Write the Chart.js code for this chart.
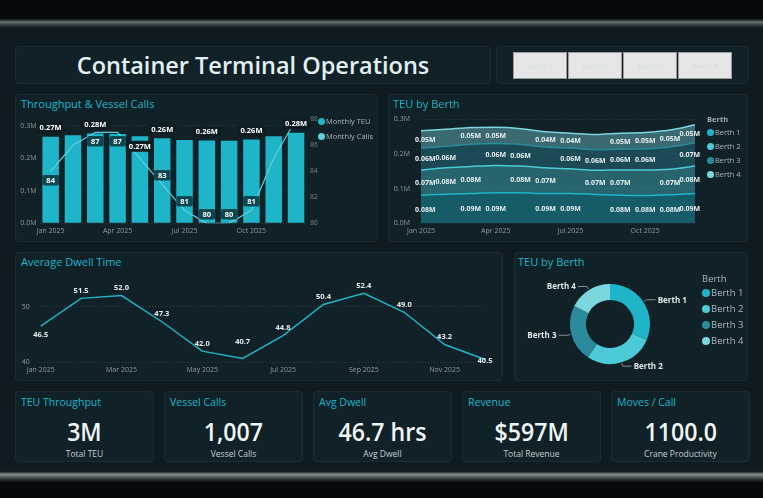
<!DOCTYPE html>
<html><head><meta charset="utf-8">
<script src="https://cdn.jsdelivr.net/npm/chart.js@4.4.1/dist/chart.umd.min.js"></script>
<style>
*{box-sizing:border-box}
html,body{margin:0;padding:0}
body{width:763px;height:498px;background:#060a0c;position:relative;overflow:hidden;font-family:"Open Sans",sans-serif}
#main{position:absolute;left:0;top:22px;width:763px;height:452px;background:#0e1b20}
#topband{position:absolute;left:0;top:19px;width:763px;height:9px;background:linear-gradient(#080c0e,#6a7476 35%,#3a4446 60%,#0e1b20)}
#botband{position:absolute;left:0;top:467px;width:763px;height:15px;background:linear-gradient(#0e1b20,#131e22 30%,#858f91 50%,#3c4547 75%,#070b0d)}
.card{position:absolute;background:#112128;border:1px solid #1b2d34;border-radius:4px}
.ctitle{position:absolute;color:#1fb5c9;font-size:11px;white-space:nowrap;line-height:14px}
canvas{position:absolute}
#title{position:absolute;left:15px;top:46px;width:476px;height:38px;display:flex;align-items:center;justify-content:center;color:#e2f0f2;font-weight:600;font-size:23.5px;white-space:nowrap}
.btn{position:absolute;top:52px;width:54px;height:27px;background:#e6e6e6;border:1px solid #9c9c9c;color:#d3dfe2;font-size:7.5px;display:flex;align-items:center;justify-content:center}
.leg{position:absolute;font-size:7.5px;color:#a7b6ba;white-space:nowrap;line-height:10px}
.dot{display:inline-block;width:7px;height:7px;border-radius:50%;margin-right:1px;vertical-align:-1px}
.kpi .kt{position:absolute;left:5px;top:3px;color:#1fb5c9;font-size:10.5px;line-height:14px;white-space:nowrap}
.kpi .kv{position:absolute;left:0;width:100%;top:24px;text-align:center;color:#f0f6f7;font-size:26px;font-weight:600;line-height:30px;white-space:nowrap}
.kpi .kv span{display:inline-block;transform:scaleX(0.89)}
.kpi .ks{position:absolute;left:0;width:100%;top:56px;text-align:center;color:#c3cfd2;font-size:8.5px;line-height:12px;white-space:nowrap}
</style>
</head><body>
<div id="main"></div>
<div id="topband"></div>
<div id="botband"></div>

<div class="card" style="left:15px;top:46px;width:476px;height:38px"></div>
<div id="title">Container Terminal Operations</div>
<div class="card" style="left:496px;top:46px;width:253px;height:38px"></div>
<div id="btns"></div>

<div class="card" style="left:15px;top:94px;width:363px;height:148px"></div>
<div class="ctitle" style="left:21px;top:97px">Throughput &amp; Vessel Calls</div>
<canvas id="c1" width="366" height="150" style="left:14px;top:93px;width:366px;height:150px"></canvas>
<div id="leg1"></div>

<div class="card" style="left:388px;top:94px;width:360px;height:148px"></div>
<div class="ctitle" style="left:393px;top:97px">TEU by Berth</div>
<canvas id="c2" width="361" height="150" style="left:388px;top:93px;width:361px;height:150px"></canvas>
<div id="leg2"></div>

<div class="card" style="left:15px;top:252px;width:488px;height:129px"></div>
<div class="ctitle" style="left:21px;top:255px">Average Dwell Time</div>
<canvas id="c3" width="489" height="129" style="left:14px;top:252px;width:489px;height:129px"></canvas>

<div class="card" style="left:514px;top:252px;width:234px;height:129px"></div>
<div class="ctitle" style="left:518px;top:255px">TEU by Berth</div>
<canvas id="c4" width="236" height="129" style="left:513px;top:252px;width:236px;height:129px"></canvas>
<div id="leg4"></div>

<div id="kpis"></div>

<script>
// ---------------- DATA ----------------
const months = ['Jan 2025','Feb 2025','Mar 2025','Apr 2025','May 2025','Jun 2025','Jul 2025','Aug 2025','Sep 2025','Oct 2025','Nov 2025','Dec 2025'];
const monthlyTEU = [0.266,0.271,0.276,0.275,0.268,0.262,0.256,0.255,0.254,0.258,0.268,0.279]; // millions
const monthlyCalls = [84,86,87,87,85,83,81,80,80,81,85,88];
const berthNames = ['Berth 1','Berth 2','Berth 3','Berth 4'];
const berth1TEU = [0.081,0.084,0.086,0.088,0.088,0.086,0.086,0.083,0.081,0.080,0.082,0.086];
const berth2TEU = [0.073,0.076,0.078,0.079,0.077,0.074,0.071,0.070,0.073,0.074,0.074,0.079];
const berth3TEU = [0.063,0.062,0.064,0.063,0.062,0.060,0.060,0.059,0.060,0.061,0.064,0.067];
const berth4TEU = [0.050,0.049,0.048,0.047,0.046,0.044,0.043,0.044,0.046,0.047,0.049,0.052];
const avgDwell = [46.5,51.5,52.0,47.3,42.0,40.7,44.8,50.4,52.4,49.0,43.2,40.5];
const teuTicks = [0,0.1,0.2,0.3];
const callTicks = [80,82,84,86,88];
const dwellTicks = [40,50];
const totalRevenueM = 597;
const cranePerCall = 1100.0;

// ---------------- STYLE ----------------
const FONT = '"Open Sans", sans-serif';
const berthColors = ['#1fb5c9','#4ccad8','#2b8a9c','#7bd6df'];
const tickColor = '#8c9b9f';
const gridColor = '#2a3b41';
function rgba(hex,a){const n=parseInt(hex.slice(1),16);return `rgba(${n>>16},${(n>>8)&255},${n&255},${a})`;}
const sum = a => a.reduce((s,v)=>s+v,0);

// buttons
const btnLefts=[513,568,623,678];
document.getElementById('btns').innerHTML = berthNames.map((b,i)=>`<div class="btn" style="left:${btnLefts[i]}px">${b}</div>`).join('');

// legends
document.getElementById('leg1').innerHTML =
  `<div class="leg" style="left:318px;top:116px"><span class="dot" style="background:#1fb5c9"></span>Monthly TEU</div>`+
  `<div class="leg" style="left:318px;top:131px"><span class="dot" style="background:#5fd0dc"></span>Monthly Calls</div>`;
let l2 = `<div class="leg" style="left:707px;top:114px;font-weight:700;color:#9fb0b4">Berth</div>`;
berthNames.forEach((b,i)=>{ l2 += `<div class="leg" style="left:707px;top:${126.5+i*14.2}px"><span class="dot" style="background:${berthColors[i]}"></span>${b}</div>`;});
document.getElementById('leg2').innerHTML = l2;
let l4 = `<div class="leg" style="left:702px;top:272px;font-size:9.5px;line-height:13px;color:#a7b6ba">Berth</div>`;
berthNames.forEach((b,i)=>{ l4 += `<div class="leg" style="left:702px;top:${285.5+i*16}px;font-size:9.5px;line-height:13px"><span class="dot" style="background:${berthColors[i]};width:8px;height:8px"></span>${b}</div>`;});
document.getElementById('leg4').innerHTML = l4;

// KPIs
const kpis = [
  ['TEU Throughput', Math.round(sum(monthlyTEU))+'M', 'Total TEU'],
  ['Vessel Calls', sum(monthlyCalls).toLocaleString('en-US'), 'Vessel Calls'],
  ['Avg Dwell', (sum(avgDwell)/avgDwell.length).toFixed(1)+' hrs', 'Avg Dwell'],
  ['Revenue', '$'+totalRevenueM+'M', 'Total Revenue'],
  ['Moves / Call', cranePerCall.toFixed(1), 'Crane Productivity']
];
const kLefts=[15,164,313,462,611];
document.getElementById('kpis').innerHTML = kpis.map((k,i)=>
  `<div class="card kpi" style="left:${kLefts[i]}px;top:391px;width:139px;height:71px"><div class="kt">${k[0]}</div><div class="kv"><span>${k[1]}</span></div><div class="ks">${k[2]}</div></div>`).join('');

// ---------------- PLUGINS ----------------
function rr(ctx,x,y,w,h,r){ctx.beginPath();ctx.moveTo(x+r,y);ctx.lineTo(x+w-r,y);ctx.quadraticCurveTo(x+w,y,x+w,y+r);ctx.lineTo(x+w,y+h-r);ctx.quadraticCurveTo(x+w,y+h,x+w-r,y+h);ctx.lineTo(x+r,y+h);ctx.quadraticCurveTo(x,y+h,x,y+h-r);ctx.lineTo(x,y+r);ctx.quadraticCurveTo(x,y,x+r,y);ctx.closePath();ctx.fill();}
const labelPlugin = {
  id:'vlabels',
  afterDatasetsDraw(chart){
    const ctx = chart.ctx;
    chart.data.datasets.forEach((ds,di)=>{
      const L = ds.vlabel; if(!L) return;
      const meta = chart.getDatasetMeta(di);
      const ys = chart.scales[meta.yAxisID];
      ctx.save();
      ctx.font = L.font; ctx.textAlign='center'; ctx.textBaseline='middle';
      meta.data.forEach((el,i)=>{
        if(L.show && !L.show.includes(i)) return;
        const v = ds.data[i];
        const txt = L.fmt(v);
        const w = ctx.measureText(txt).width;
        let x = el.x, y = el.y;
        if(L.mid){
          const base = di>0 ? chart.getDatasetMeta(di-1).data[i].y : ys.getPixelForValue(0);
          y = (el.y+base)/2;
        } else {
          y += L.off(v,i);
        }
        if(L.clamp){const a=chart.chartArea; x=Math.max(a.left+w/2-6,Math.min(a.right-w/2+5,x));}
        if(L.bg){ctx.fillStyle=L.bg; rr(ctx,x-w/2-L.padX,y-L.h/2,w+2*L.padX,L.h,2);}
        ctx.fillStyle=L.color; ctx.fillText(txt,x,y+0.5);
      });
      ctx.restore();
    });
  }
};
const donutLabels = {
  id:'dlabels',
  afterDatasetsDraw(chart){
    const ctx=chart.ctx; const meta=chart.getDatasetMeta(0);
    ctx.save(); ctx.font='bold 8px '+FONT; ctx.textBaseline='middle';
    meta.data.forEach((arc,i)=>{
      const p = arc.getProps(['x','y','startAngle','endAngle','outerRadius'],true);
      const mid=(p.startAngle+p.endAngle)/2, c=Math.cos(mid), s=Math.sin(mid);
      const x0=p.x+c*(p.outerRadius+1), y0=p.y+s*(p.outerRadius+1);
      const x1=p.x+c*(p.outerRadius+4), y1=p.y+s*(p.outerRadius+4);
      const dir=c>=0?1:-1; const x2=x1+dir*9;
      ctx.strokeStyle='#7f8f93'; ctx.lineWidth=1;
      ctx.beginPath(); ctx.moveTo(x0,y0); ctx.lineTo(x1,y1); ctx.lineTo(x2,y1); ctx.stroke();
      ctx.fillStyle='#dfe8ea'; ctx.textAlign=dir>0?'left':'right';
      ctx.fillText(chart.data.labels[i], x2+dir*2, y1+0.5);
    });
    ctx.restore();
  }
};
Chart.defaults.font.family = FONT;

const tickFont = {size:7, family:FONT};
function fixW(w){return s=>{s.width=w;};}
function fixH(h){return s=>{s.height=h;};}
function setTicks(arr){return s=>{s.ticks=arr.map(v=>({value:v}));};}

// ---------------- CHART 1 ----------------
new Chart(document.getElementById('c1'),{
  data:{labels:months,datasets:[
    {type:'line',label:'Monthly Calls',data:monthlyCalls,yAxisID:'y1',borderColor:'#5fd0dc',borderWidth:1.2,pointRadius:0,tension:0,order:0,
     vlabel:{show:[0,2,3,5,6,7,8,9],fmt:v=>String(v),font:'bold 7.5px '+FONT,color:'#ffffff',bg:'#0d4751',padX:4,h:10.5,off:(v)=>v>=84?9:-9}},
    {type:'bar',label:'Monthly TEU',data:monthlyTEU,yAxisID:'y',backgroundColor:'#1fb5c9',barPercentage:0.74,categoryPercentage:1,order:1,
     vlabel:{show:[0,2,4,5,7,9,11],fmt:v=>v.toFixed(2)+'M',font:'bold 7.5px '+FONT,color:'#ffffff',bg:'#0f1d23',padX:3,h:11,off:(v,i)=>i===4?10:-9}}
  ]},
  options:{responsive:false,animation:false,events:[],
    layout:{padding:{left:0,right:58.8,top:26.3,bottom:0}},
    plugins:{legend:{display:false},tooltip:{enabled:false}},
    scales:{
      x:{offset:true,grid:{display:false,drawTicks:false},border:{display:false},
         ticks:{autoSkip:false,maxRotation:0,color:tickColor,font:tickFont,padding:3,callback:(v,i)=>i%3===0?months[i]:''},afterFit:fixH(19.7)},
      y:{position:'left',min:0,max:0.32,afterBuildTicks:setTicks(teuTicks),
         ticks:{color:tickColor,font:tickFont,padding:3,callback:v=>v.toFixed(1)+'M'},
         grid:{color:gridColor,drawTicks:false,borderDash:[1,2]},border:{display:false,dash:[1,2]},afterFit:fixW(25.5)},
      y1:{position:'right',min:80,max:88,afterBuildTicks:setTicks(callTicks),
         ticks:{color:'#768589',font:{size:6.5,family:FONT},padding:3},grid:{display:false,drawTicks:false},border:{display:false},afterFit:fixW(14)}
    }},
  plugins:[labelPlugin]
});

// ---------------- CHART 2 ----------------
const berthSeries=[berth1TEU,berth2TEU,berth3TEU,berth4TEU];
const berthShow=[[0,2,3,5,6,8,9,10,11],[0,1,2,4,5,7,8,10,11],[0,1,3,4,6,7,8,9,11],[0,2,3,5,6,8,9,10,11]];
new Chart(document.getElementById('c2'),{
  type:'line',
  data:{labels:months,datasets:berthSeries.map((d,k)=>({label:berthNames[k],data:d,fill:k===0?'origin':'-1',
    backgroundColor:rgba(berthColors[k],0.4),borderColor:berthColors[k],borderWidth:1.5,pointRadius:0,tension:0.4,cubicInterpolationMode:'monotone',
    vlabel:{show:berthShow[k],mid:true,clamp:true,fmt:v=>v.toFixed(2)+'M',font:'bold 7px '+FONT,color:'#e6f0f2'}}))},
  options:{responsive:false,animation:false,events:[],
    layout:{padding:{left:0,right:54,top:26.3,bottom:0}},
    plugins:{legend:{display:false},tooltip:{enabled:false}},
    scales:{
      x:{offset:false,grid:{display:false,drawTicks:false},border:{display:false},
         ticks:{autoSkip:false,maxRotation:0,color:tickColor,font:tickFont,padding:3,callback:(v,i)=>i%3===0?months[i]:''},afterFit:fixH(19.7)},
      y:{stacked:true,min:0,max:0.3,afterBuildTicks:setTicks(teuTicks),
         ticks:{color:tickColor,font:tickFont,padding:11,callback:v=>v.toFixed(1)+'M'},
         grid:{color:gridColor,drawTicks:false,borderDash:[1,2]},border:{display:false,dash:[1,2]},afterFit:fixW(33)}
    }},
  plugins:[labelPlugin]
});

// ---------------- CHART 3 ----------------
new Chart(document.getElementById('c3'),{
  type:'line',
  data:{labels:months,datasets:[{label:'Average Dwell Time',data:avgDwell,borderColor:'#1fb5c9',borderWidth:1.4,pointRadius:0,tension:0,
    vlabel:{fmt:v=>v.toFixed(1),font:'bold 7.5px '+FONT,color:'#e8eef0',off:(v,i)=>i===0?8:(i===11?1:(i===5?-17:-8))}}]},
  options:{responsive:false,animation:false,events:[],
    layout:{padding:{left:0,right:18,top:26.9,bottom:0}},
    plugins:{legend:{display:false},tooltip:{enabled:false}},
    scales:{
      x:{offset:false,grid:{display:false,drawTicks:false},border:{display:false},
         ticks:{autoSkip:false,maxRotation:0,color:tickColor,font:tickFont,padding:3,callback:(v,i)=>i%2===0?months[i]:''},afterFit:fixH(18.7)},
      y:{min:40,max:55,afterBuildTicks:setTicks(dwellTicks),
         ticks:{color:tickColor,font:tickFont,padding:11},
         grid:{color:gridColor,drawTicks:false,borderDash:[1,2]},border:{display:false,dash:[1,2]},afterFit:fixW(26.7)}
    }},
  plugins:[labelPlugin]
});

// ---------------- CHART 4 ----------------
new Chart(document.getElementById('c4'),{
  type:'doughnut',
  data:{labels:berthNames,datasets:[{data:berthSeries.map(sum),backgroundColor:berthColors,borderWidth:0}]},
  options:{responsive:false,animation:false,events:[],cutout:'60%',
    layout:{padding:{left:57,right:99,top:32,bottom:17}},
    plugins:{legend:{display:false},tooltip:{enabled:false}}},
  plugins:[donutLabels]
});
</script>
</body></html>
